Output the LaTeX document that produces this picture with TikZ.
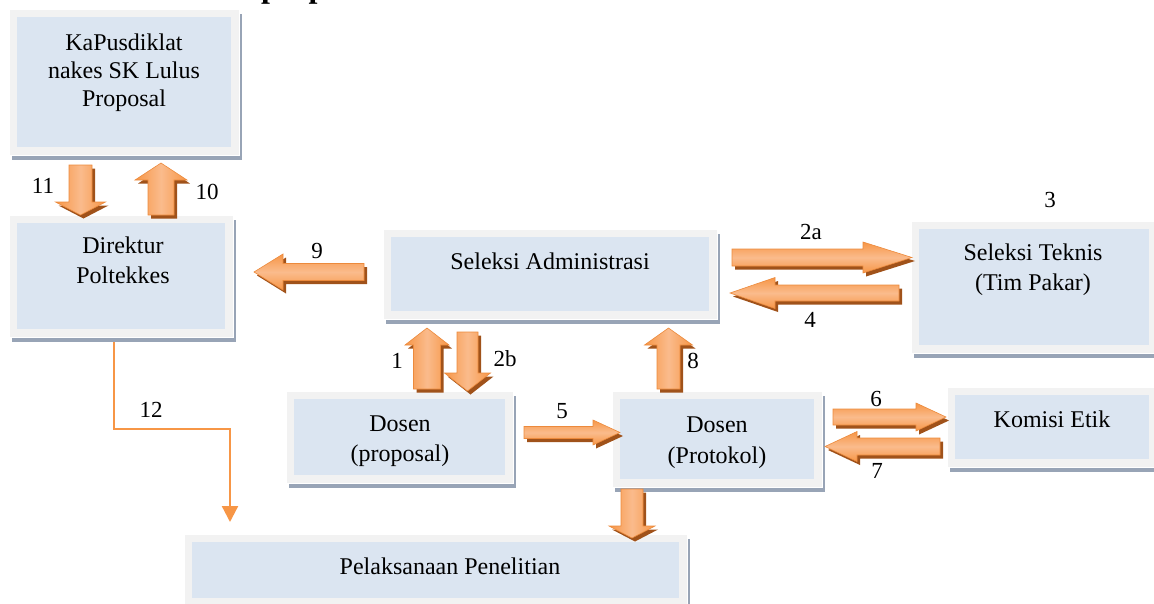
\documentclass[tikz,border=0pt]{standalone}
\usepackage{fontspec}
\setmainfont{Liberation Serif}
\usetikzlibrary{arrows.meta,calc}
\definecolor{framegray}{HTML}{F2F2F2}
\definecolor{innerblue}{HTML}{DBE5F1}
\definecolor{boxshadow}{HTML}{98A4B6}
\definecolor{orng}{HTML}{F79646}
\definecolor{orngl}{HTML}{FABB8C}
\definecolor{orngedge}{HTML}{EC8A3C}
\definecolor{arrsh}{HTML}{A0521A}
\tikzset{
  box/.style={draw=white, line width=0.8pt, fill=framegray, inner sep=0pt, outer sep=0pt,
    preaction={fill=boxshadow, transform canvas={shift={(3pt,-5pt)}}},
    path picture={\fill[innerblue] ([shift={(8pt,-8pt)}]path picture bounding box.north west) rectangle ([shift={(-8pt,8pt)}]path picture bounding box.south east);}},
  boxtext/.style={inner sep=0pt, align=center, anchor=base, font=\fontsize{24}{30}\selectfont},
  numlabel/.style={inner sep=0pt, anchor=base, font=\fontsize{23}{27}\selectfont},
  thinconn/.style={draw=orng, line width=2.3pt, -{Triangle[width=16pt,length=16pt]}},
}
% #1 x tail, #2 y tail, #3 angle, #4 length, #5 shaft half, #6 head half, #7 head length, #8 shading angle
\newcommand\blkarrow[8]{%
  \fill[arrsh, shift={({#1+3},{#2+3.5})}, rotate=#3]
    (0,-#5) -- ({#4-#7},-#5) -- ({#4-#7},-#6) -- (#4,0) -- ({#4-#7},#6) -- ({#4-#7},#5) -- (0,#5) -- cycle;
  \shade[draw=orngedge, line width=0.6pt, top color=orng, bottom color=orng, middle color=orngl, shading angle=#8, shift={(#1,#2)}, rotate=#3]
    (0,-#5) -- ({#4-#7},-#5) -- ({#4-#7},-#6) -- (#4,0) -- ({#4-#7},#6) -- ({#4-#7},#5) -- (0,#5) -- cycle;
}
\begin{document}
\begin{tikzpicture}[x=1pt,y=-1pt]
\useasboundingbox (0,0) rectangle (1154,603);
% cut-off heading
\begin{scope}
\clip (0,0) rectangle (1154,603);
\node[inner sep=0pt, anchor=base west, font=\bfseries\fontsize{32}{38}\selectfont] (head) at (261,-3) {proposal};
\end{scope}

% boxes
\node[box, minimum width=230, minimum height=146] (kap) at (124,82) {};
\node[box, minimum width=224, minimum height=122] (dir) at (121,276) {};
\node[box, minimum width=334, minimum height=90] (adm) at (550,274) {};
\node[box, minimum width=246, minimum height=132] (tek) at (1034,287) {};
\node[box, minimum width=227, minimum height=92] (dp) at (399.5,437) {};
\node[box, minimum width=210, minimum height=96] (dk) at (717,439) {};
\node[box, minimum width=210, minimum height=80] (kom) at (1052,427) {};
\node[box, minimum width=503, minimum height=72] (pel) at (435.5,570) {};

% box texts (base = baseline of last line)
\node[boxtext, font=\fontsize{24}{28}\selectfont] (kapt) at (124,106) {KaPusdiklat\\nakes SK Lulus\\Proposal};
\node[boxtext] (dirt) at (123,283) {Direktur\\Poltekkes};
\node[boxtext] (admt) at (550,269) {Seleksi Administrasi};
\node[boxtext] (tekt) at (1033,290) {Seleksi Teknis\\(Tim Pakar)};
\node[boxtext] (dpt) at (400,461) {Dosen\\(proposal)};
\node[boxtext, font=\fontsize{24}{31}\selectfont] (dkt) at (717,463) {Dosen\\(Protokol)};
\node[boxtext] (komt) at (1052,427) {Komisi Etik};
\node[boxtext] (pelt) at (450,574) {Pelaksanaan Penelitian};

% thin connector 12
\draw[thinconn] ([xshift=-7pt,yshift=-5pt]dir.south) -- ++(0,87) -| ([xshift=46pt,yshift=12pt]pel.north west);

% block arrows
\blkarrow{80.5}{165}{-90}{50}{11.5}{25}{13}{90}   % 11
\blkarrow{161}{215}{90}{52}{13}{26}{17}{90}       % 10
\blkarrow{364}{272}{180}{110}{8.5}{18}{29}{0}     % 9
\blkarrow{732}{257.5}{0}{180}{8.5}{15.5}{49}{0}   % 2a
\blkarrow{899}{293}{180}{169}{8}{15.5}{45}{0}     % 4
\blkarrow{427}{389}{90}{61}{13.5}{22}{17}{90}     % 1
\blkarrow{467.5}{332}{-90}{59}{10.5}{23}{18}{90}  % 2b
\blkarrow{668.5}{389}{90}{61}{11.5}{24}{17}{90}   % 8
\blkarrow{524}{432.5}{0}{96}{6}{12.5}{27}{0}      % 5
\blkarrow{833}{417}{0}{113}{8}{14}{30}{0}         % 6
\blkarrow{940}{446.5}{180}{115}{8.5}{15}{32}{0}   % 7
\blkarrow{632}{489}{-90}{49}{11}{23}{12}{90}      % to Pelaksanaan

% number labels
\node[numlabel] (l11) at (43,193) {11};
\node[numlabel] (l10) at (207,199) {10};
\node[numlabel] (l9) at (317,258) {9};
\node[numlabel] (l2a) at (811,239) {2a};
\node[numlabel] (l3) at (1050,207) {3};
\node[numlabel] (l4) at (810,327) {4};
\node[numlabel] (l1) at (397,368) {1};
\node[numlabel] (l2b) at (505,366) {2b};
\node[numlabel] (l8) at (693,368) {8};
\node[numlabel] (l5) at (562,418) {5};
\node[numlabel] (l6) at (876,406) {6};
\node[numlabel] (l7) at (877,478) {7};
\node[numlabel] (l12) at (151,417) {12};
\end{tikzpicture}
\end{document}
